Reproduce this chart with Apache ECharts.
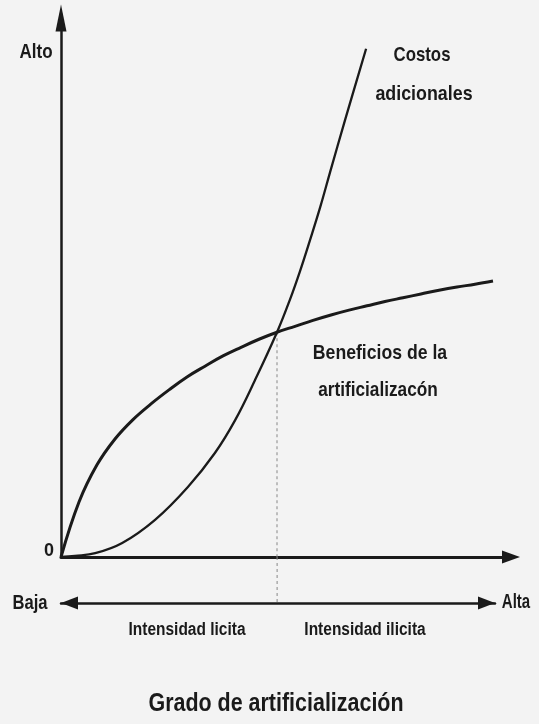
<!DOCTYPE html>
<html>
<head>
<meta charset="utf-8">
<script src="https://cdn.jsdelivr.net/npm/echarts@6/dist/echarts.min.js"></script>
<style>
  html, body { margin: 0; padding: 0; background: #f3f3f3; }
  #chart { width: 539px; height: 724px; }
</style>
</head>
<body>
<div id="chart"></div>
<script>
// Curve values (x: grado de artificialización 0-100, y: nivel 0-100)
var beneficiosX = [0, 4, 8, 12, 16, 20, 24, 28, 32, 36, 40, 44, 48, 52, 56, 60, 64, 68, 72, 76, 80, 84, 88, 92, 96];
var beneficiosY = [0, 10.2, 17.1, 21.9, 25.5, 28.4, 31.0, 33.4, 35.4, 37.3, 38.9, 40.4, 41.7, 42.8, 43.9, 44.9, 45.8, 46.6, 47.4, 48.1, 48.8, 49.5, 50.1, 50.6, 51.2];
var costosX = [0, 3.1, 7.6, 13.6, 20.9, 28.2, 34.2, 38.7, 43.1, 48.0, 50.9, 53.1, 55.3, 57.6, 59.8, 63.1, 67.8];
var costosY = [0, 0.2, 0.7, 2.6, 6.9, 13.0, 19.3, 25.4, 32.8, 41.7, 47.8, 53.0, 58.7, 64.9, 71.4, 81.0, 94.3];
var interseccion = [48.0, 41.7];
var yTicks = [0];

var FONT = '"Liberation Sans", Arial, sans-serif';
var INK = '#1a1a1a';

function zip(xs, ys) { return xs.map(function (x, i) { return [x, ys[i]]; }); }

function txt(s, x, y, size, sx) {
  return {
    type: 'text', silent: true, x: x, y: y, scaleX: sx, scaleY: 1,
    style: {
      text: s, x: 0, y: 0, align: 'center', verticalAlign: 'middle',
      font: 'bold ' + size + 'px ' + FONT, fill: INK
    }
  };
}

var chart = echarts.init(document.getElementById('chart'), null, { renderer: 'canvas' });
chart.setOption({
  animation: false,
  backgroundColor: '#f3f3f3',
  grid: [
    { left: 61, top: 18, right: 28, bottom: 167 },
    { left: 61, top: 557, right: 44, bottom: 121 }
  ],
  xAxis: [
    {
      gridIndex: 0, type: 'value', min: 0, max: 100,
      axisLine: { show: true, symbol: ['none', 'triangle'], symbolSize: [13, 18],
                  lineStyle: { color: INK, width: 3 } },
      axisTick: { show: false }, axisLabel: { show: false }, splitLine: { show: false }
    },
    {
      gridIndex: 1, type: 'value', min: 0, max: 96.4, position: 'bottom',
      axisLine: { show: true, onZero: false, symbol: ['triangle', 'triangle'], symbolSize: [13, 17],
                  symbolOffset: [8.5, -8.5], lineStyle: { color: INK, width: 2.5 } },
      axisTick: { show: false }, axisLabel: { show: false }, splitLine: { show: false }
    }
  ],
  yAxis: [
    {
      gridIndex: 0, type: 'value', min: 0, max: 100, interval: 100,
      axisLine: { show: true, symbol: ['none', 'triangle'], symbolSize: [11, 27],
                  lineStyle: { color: INK, width: 2.5 } },
      axisTick: { show: false }, splitLine: { show: false },
      axisLabel: {
        show: true, margin: 7, showMaxLabel: false,
        color: INK, fontFamily: FONT, fontWeight: 'bold', fontSize: 18,
        verticalAlign: 'bottom', lineHeight: 18, padding: [0, 0, -3, 0],
        formatter: function (v) { return yTicks.indexOf(v) >= 0 ? String(v) : ''; }
      }
    },
    {
      gridIndex: 1, type: 'value', min: 0, max: 1, show: false
    }
  ],
  series: [
    {
      name: 'Beneficios de la artificializacón', type: 'line', xAxisIndex: 0, yAxisIndex: 0,
      data: zip(beneficiosX, beneficiosY), smooth: 0.4, symbol: 'none', clip: false,
      lineStyle: { color: INK, width: 3 }
    },
    {
      name: 'Costos adicionales', type: 'line', xAxisIndex: 0, yAxisIndex: 0,
      data: zip(costosX, costosY), smooth: 0.4, symbol: 'none', clip: false,
      lineStyle: { color: INK, width: 2.3 }
    },
    {
      name: 'guia', type: 'line', xAxisIndex: 0, yAxisIndex: 0, z: 1,
      data: [[interseccion[0], interseccion[1]], [interseccion[0], 0]], symbol: 'none',
      lineStyle: { color: '#888', width: 1, type: [3, 3] }
    },
    {
      name: 'guia2', type: 'line', xAxisIndex: 1, yAxisIndex: 1, z: 1,
      data: [[interseccion[0], 1], [interseccion[0], 0]], symbol: 'none',
      lineStyle: { color: '#888', width: 1, type: [3, 3] }
    }
  ],
  graphic: [
    txt('Alto', 36, 52, 20, 0.85),
    txt('Costos', 422, 55, 21, 0.8),
    txt('adicionales', 424, 94, 21, 0.85),
    txt('Beneficios de la', 380, 353, 21, 0.84),
    txt('artificializacón', 378, 390, 21, 0.82),
    txt('Baja', 30, 603, 20, 0.83),
    txt('Alta', 516, 602, 20, 0.75),
    txt('Intensidad licita', 187, 630, 18, 0.86),
    txt('Intensidad ilicita', 365, 630, 18, 0.86),
    txt('Grado de artificialización', 276, 704, 26, 0.825)
  ]
});
</script>
</body>
</html>
